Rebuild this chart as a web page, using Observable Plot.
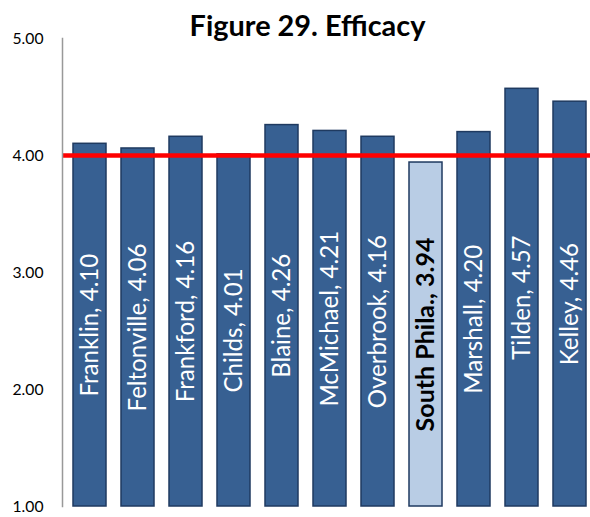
<!DOCTYPE html>
<html>
<head>
<meta charset="utf-8">
<script src="https://cdn.jsdelivr.net/npm/d3@7"></script>
<script src="https://cdn.jsdelivr.net/npm/@observablehq/plot@0.6"></script>
<style>
  html, body { margin: 0; padding: 0; background: #fff; }
  #chart svg { display: block; }
</style>
</head>
<body>
<div id="chart"></div>
<script>
const title = "Figure 29. Efficacy";
const schools = ["Franklin", "Feltonville", "Frankford", "Childs", "Blaine", "McMichael", "Overbrook", "South Phila.", "Marshall", "Tilden", "Kelley"];
const scores = [4.10, 4.06, 4.16, 4.01, 4.26, 4.21, 4.16, 3.94, 4.20, 4.57, 4.46];
const highlight = "South Phila.";
const benchmark = [4.00];
const yTicks = [1, 2, 3, 4, 5];

const data = schools.map((s, i) => ({school: s, value: scores[i], hi: s === highlight}));
const fontName = "Lato";
const font = "Lato, 'Open Sans', sans-serif";

// fit font sizes to the widths measured in the reference
const ctx = document.createElement("canvas").getContext("2d");
function fit(text, weight, target) {
  ctx.font = `${weight} 100px ${fontName}`;
  return 100 * target / ctx.measureText(text).width;
}
const labelSize = fit("Franklin, 4.10", "normal", 143);
const hiSize = fit("South Phila., 3.94", "bold", 194);
const titleSize = fit(title, "bold", 236);
const tickSize = fit("5.00", "normal", 31);

const chart = Plot.plot({
  width: 590,
  height: 517,
  marginTop: 38,
  marginBottom: 11,
  marginLeft: 62,
  marginRight: 0,
  style: {fontFamily: font, background: "#fff", overflow: "visible"},
  x: {domain: schools, range: [62, 596.5], paddingInner: 0.31, paddingOuter: 0.144, axis: null},
  y: {domain: [1, 5], range: [506, 38]},
  marks: [
    Plot.barY(data, {
      x: "school", y1: () => 1, y2: "value",
      fill: d => d.hi ? "#B9CDE5" : "#376092",
      stroke: "#1F3A60", strokeWidth: 1.5
    }),
    Plot.ruleY(benchmark, {stroke: "#FF0000", strokeWidth: 4.5}),
    Plot.frame({anchor: "left", stroke: "#999", strokeWidth: 1.5}),
    Plot.axisY({ticks: yTicks, tickFormat: d3.format(".2f"), tickSize: 0, tickPadding: 19, fontSize: tickSize, fill: "#000", label: null}),
    Plot.text(data.filter(d => !d.hi), {
      x: "school", y: d => (1 + d.value) / 2,
      text: d => `${d.school}, ${d.value.toFixed(2)}`,
      rotate: -90, fill: "#fff", fontSize: labelSize
    }),
    Plot.text(data.filter(d => d.hi), {
      x: "school", y: d => (1 + d.value) / 2,
      text: d => `${d.school}, ${d.value.toFixed(2)}`,
      rotate: -90, fill: "#000", fontSize: hiSize, fontWeight: "bold"
    }),
    Plot.text([title], {
      frameAnchor: "top", dx: -19, dy: -3, lineAnchor: "bottom",
      text: d => d, fontSize: titleSize, fontWeight: "bold", fill: "#000"
    })
  ]
});
document.getElementById("chart").appendChild(chart);
</script>
</body>
</html>
